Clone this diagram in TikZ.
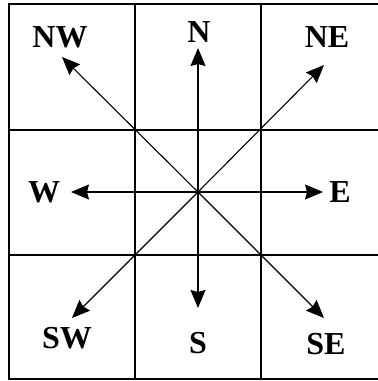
\documentclass[tikz,border=0pt]{standalone}
\usepackage{fontspec}
\setmainfont{Liberation Serif}
\usetikzlibrary{arrows.meta}
\tikzset{
  gridline/.style={draw, line width=0.9pt},
  dirarrow/.style={-{Stealth[length=9pt, width=7.5pt, inset=1pt]}, line width=0.55pt},
  dirlabel/.style={inner sep=0pt, font=\fontsize{16}{16}\selectfont\bfseries}
}
\begin{document}
\begin{tikzpicture}[x=0.5pt,y=-0.5pt]
  \fill[white] (0,0) rectangle (378,381);
  \useasboundingbox (0,0) rectangle (378,381);
  % grid
  \draw[gridline] (9,4) rectangle (380,379);
  \foreach \x in {135,261} {\draw[gridline] (\x,4) -- (\x,379);}
  \foreach \y in {130,255} {\draw[gridline] (9,\y) -- (380,\y);}
  % labels
  \node[dirlabel] (n)  at (199,32)  {N};
  \node[dirlabel] (ne) at (327,37)  {NE};
  \node[dirlabel] (e)  at (340,192) {E};
  \node[dirlabel] (se) at (326,344) {SE};
  \node[dirlabel] (s)  at (198,343) {S};
  \node[dirlabel] (sw) at (67,338)  {SW};
  \node[dirlabel] (w)  at (44,192)  {W};
  \node[dirlabel] (nw) at (60,37)   {NW};
  % centre and arrow ends
  \coordinate (c) at (198,192);
  \coordinate (ntip)  at (198,48);
  \coordinate (netip) at (324,65);
  \coordinate (etip)  at (323,192);
  \coordinate (setip) at (324,318);
  \coordinate (stip)  at (198,308);
  \coordinate (swtip) at (72,318);
  \coordinate (wtip)  at (71,192);
  \coordinate (nwtip) at (62,57);
  \foreach \d in {n,ne,e,se,s,sw,w,nw} {\draw[dirarrow] (c) -- (\d tip);}
  \fill (c) circle (2.2);
\end{tikzpicture}
\end{document}
